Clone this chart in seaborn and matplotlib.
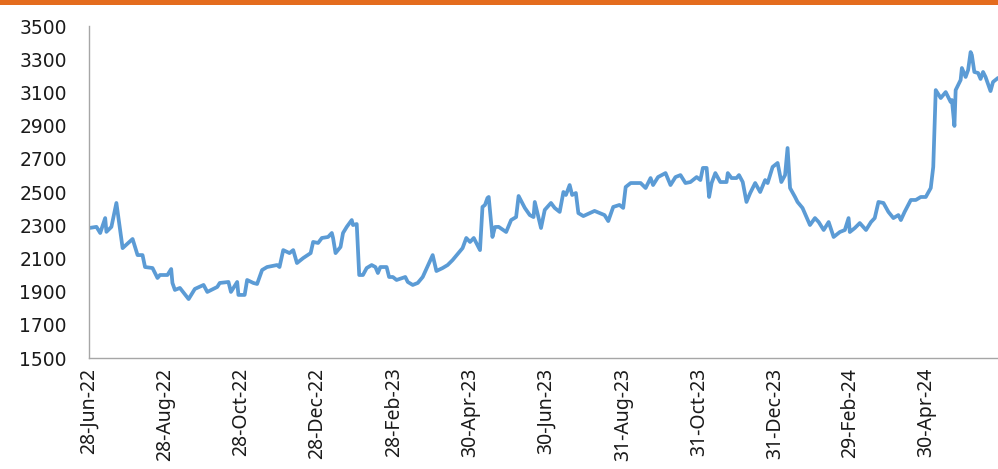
import matplotlib
matplotlib.use("Agg")
import matplotlib.pyplot as plt
from matplotlib.patches import Rectangle
import pandas as pd
import seaborn as sns

# daily price (days counted from the first date)
start_date = "2022-06-28"
day_offsets = [0, 6, 9, 13, 14, 18, 22, 27, 35, 39, 43, 45, 51, 55, 57, 63, 66, 67, 69, 73,
               80, 85, 92, 95, 103, 105, 112, 114, 119, 120, 125, 127, 132, 135, 139, 143, 151, 153, 156, 161,
               164, 167, 172, 178, 180, 184, 187, 192, 195, 196, 198, 202, 204, 207, 211, 212, 215, 217, 220, 223,
               227, 230, 232, 234, 239, 241, 244, 247, 254, 256, 260, 264, 268, 276, 279, 284, 288, 292, 300, 303,
               306, 309, 314, 316, 318, 320, 321, 324, 326, 329, 335, 339, 343, 345, 350, 354, 357, 358, 363, 366,
               371, 374, 378, 381, 383, 386, 388, 391, 393, 397, 406, 414, 417, 421, 426, 429, 431, 435, 443, 447,
               451, 453, 457, 463, 467, 471, 475, 479, 483, 488, 491, 493, 496, 498, 500, 503, 507, 512, 513, 516,
               520, 522, 525, 528, 531, 535, 539, 543, 545, 549, 553, 556, 559, 561, 563, 567, 569, 573, 579, 583,
               586, 590, 594, 598, 603, 607, 610, 611, 615, 619, 624, 628, 631, 634, 638, 642, 646, 650, 652, 655,
               660, 664, 668, 672, 676, 678, 680, 684, 688, 692, 693, 695, 696, 700, 701, 704, 706, 708, 709, 711,
               714, 716, 718, 720, 724, 726, 730]
prices = [2283, 2290, 2253, 2343, 2260, 2290, 2434, 2162, 2217, 2120, 2120, 2048, 2042, 1982, 2000, 2000, 2036, 1952, 1910, 1922,
          1855, 1916, 1940, 1898, 1928, 1952, 1958, 1898, 1958, 1880, 1880, 1970, 1952, 1946, 2030, 2048, 2060, 2048, 2150, 2132,
          2150, 2072, 2102, 2132, 2199, 2193, 2223, 2229, 2253, 2223, 2132, 2169, 2253, 2290, 2331, 2301, 2307, 2000, 2000, 2042,
          2060, 2048, 2012, 2048, 2048, 1988, 1988, 1970, 1988, 1958, 1940, 1952, 1988, 2120, 2024, 2042, 2060, 2090, 2162, 2223,
          2199, 2223, 2150, 2410, 2422, 2464, 2470, 2229, 2289, 2290, 2259, 2331, 2349, 2476, 2404, 2361, 2349, 2440, 2283, 2392,
          2434, 2404, 2380, 2500, 2482, 2542, 2482, 2494, 2373, 2355, 2386, 2361, 2325, 2410, 2422, 2404, 2530, 2554, 2554, 2524,
          2584, 2542, 2590, 2614, 2542, 2590, 2602, 2554, 2560, 2590, 2572, 2645, 2645, 2470, 2554, 2614, 2560, 2560, 2614, 2584,
          2584, 2602, 2560, 2440, 2494, 2554, 2500, 2572, 2554, 2651, 2675, 2560, 2602, 2765, 2524, 2470, 2440, 2404, 2301, 2343,
          2319, 2271, 2319, 2229, 2259, 2271, 2343, 2259, 2283, 2313, 2271, 2319, 2343, 2440, 2434, 2380, 2343, 2361, 2331, 2380,
          2452, 2452, 2470, 2470, 2524, 2651, 3114, 3066, 3102, 3042, 3054, 2898, 3114, 3175, 3247, 3193, 3235, 3343, 3325, 3223,
          3217, 3181, 3223, 3193, 3108, 3163, 3187]

tick_dates = ["2022-06-28", "2022-08-28", "2022-10-28", "2022-12-28", "2023-02-28", "2023-04-30",
              "2023-06-30", "2023-08-31", "2023-10-31", "2023-12-31", "2024-02-29", "2024-04-30"]
tick_labels = ["28-Jun-22", "28-Aug-22", "28-Oct-22", "28-Dec-22", "28-Feb-23", "30-Apr-23",
               "30-Jun-23", "31-Aug-23", "31-Oct-23", "31-Dec-23", "29-Feb-24", "30-Apr-24"]
y_ticks = [1500, 1700, 1900, 2100, 2300, 2500, 2700, 2900, 3100, 3300, 3500]

df = pd.DataFrame({
    "date": pd.to_datetime(start_date) + pd.to_timedelta(day_offsets, unit="D"),
    "price": prices,
})

sns.set_style("white")
plt.rcParams['font.family'] = ['DejaVu Sans']

fig = plt.figure(figsize=(9.98, 4.69), dpi=100)
ax = fig.add_axes([89 / 998, 111 / 469, 909 / 998, 332 / 469])

line = sns.lineplot(data=df, x="date", y="price", color="#5B9BD5", linewidth=2.7, ax=ax)
line.lines[0].set_solid_joinstyle("round")

ax.set_xlim(df["date"].iloc[0], df["date"].iloc[-1])
ax.set_ylim(1500, 3500)
ax.set_yticks(y_ticks)
ax.set_yticklabels([str(v) for v in y_ticks], fontsize=13.5, color="#1a1a1a")
ax.set_xticks(pd.to_datetime(tick_dates))
ax.set_xticklabels(tick_labels, rotation=90, family=["Noto Sans", "DejaVu Sans"], fontsize=14, color="#1a1a1a")
ax.tick_params(axis="y", length=0, pad=16)
ax.tick_params(axis="x", length=0, pad=7)
ax.set_xlabel("")
ax.set_ylabel("")

for side in ["top", "right"]:
    ax.spines[side].set_visible(False)
for side in ["left", "bottom"]:
    ax.spines[side].set_color("#A6A6A6")
    ax.spines[side].set_linewidth(1)

# orange strip along the top edge
fig.add_artist(Rectangle((0, 1 - 5 / 469), 1, 5 / 469, transform=fig.transFigure,
                         color="#E46C1E", linewidth=0))

fig.savefig("out.png", dpi=100)
